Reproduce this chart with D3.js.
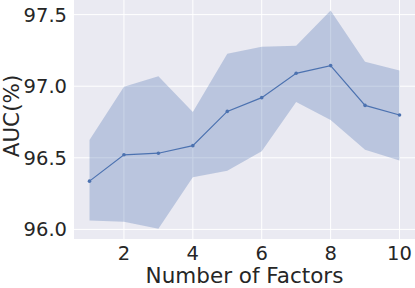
<!DOCTYPE html>
<html>
<head>
<meta charset="utf-8">
<script src="https://cdn.jsdelivr.net/npm/d3@7"></script>
<style>
	body { margin: 0; background: #fff; }
	text { font-family: 'DejaVu Sans', sans-serif; fill: #262626; }
</style>
</head>
<body>
<svg id="chart" width="415" height="288"></svg>
<script>
const factors = [1, 2, 3, 4, 5, 6, 7, 8, 9, 10]
const aucMean = [96.337, 96.521, 96.532, 96.585, 96.824, 96.92, 97.09, 97.144, 96.866, 96.799]
const aucUpper = [96.625, 96.996, 97.07, 96.82, 97.227, 97.276, 97.283, 97.528, 97.17, 97.11]
const aucLower = [96.0625, 96.053, 96.004, 96.365, 96.41, 96.546, 96.889, 96.764, 96.556, 96.481]
const xTicks = [2, 4, 6, 8, 10]
const yTicks = [96.0, 96.5, 97.0, 97.5]

const svg = d3.select('#chart')
const plotLeft = 74, plotRight = 415, plotTop = 0, plotBottom = 239
const lineColor = '#4c72b0'

const x = d3.scaleLinear().domain([0.55, 10.45]).range([plotLeft, plotRight])
const y = d3.scaleLinear().domain([95.933, 97.602]).range([plotBottom, plotTop])

// background
svg.append('rect')
	.attr('x', plotLeft).attr('y', plotTop)
	.attr('width', plotRight - plotLeft).attr('height', plotBottom - plotTop)
	.attr('fill', '#eaeaf2')

// grid
svg.selectAll('line.vgrid')
	.data(xTicks)
	.enter()
	.append('line')
	.attr('x1', d => x(d)).attr('x2', d => x(d))
	.attr('y1', plotTop).attr('y2', plotBottom)
	.attr('stroke', '#fff').attr('stroke-width', 1)
svg.selectAll('line.hgrid')
	.data(yTicks)
	.enter()
	.append('line')
	.attr('x1', plotLeft).attr('x2', plotRight)
	.attr('y1', d => y(d)).attr('y2', d => y(d))
	.attr('stroke', '#fff').attr('stroke-width', 1)

// band
const band = d3.area()
	.x((d, i) => x(factors[i]))
	.y0((d, i) => y(aucLower[i]))
	.y1((d, i) => y(aucUpper[i]))
svg.append('path')
	.attr('d', band(factors))
	.attr('fill', lineColor)
	.attr('fill-opacity', 0.3)

// mean line
const line = d3.line()
	.x((d, i) => x(factors[i]))
	.y((d, i) => y(aucMean[i]))
svg.append('path')
	.attr('d', line(factors))
	.attr('fill', 'none')
	.attr('stroke', lineColor)
	.attr('stroke-width', 1.2)
svg.selectAll('circle')
	.data(factors)
	.enter()
	.append('circle')
	.attr('cx', (d, i) => x(d))
	.attr('cy', (d, i) => y(aucMean[i]))
	.attr('r', 1.8)
	.attr('fill', lineColor)

// tick labels
svg.selectAll('text.xtick')
	.data(xTicks)
	.enter()
	.append('text')
	.attr('x', d => x(d))
	.attr('y', 260)
	.attr('text-anchor', 'middle')
	.attr('font-size', 19.5)
	.text(d => d)
svg.selectAll('text.ytick')
	.data(yTicks)
	.enter()
	.append('text')
	.attr('x', 67)
	.attr('y', d => y(d))
	.attr('dy', '0.36em')
	.attr('text-anchor', 'end')
	.attr('font-size', 19.5)
	.text(d => d3.format('.1f')(d))

// axis labels
svg.append('text')
	.attr('x', (plotLeft + plotRight) / 2)
	.attr('y', 283)
	.attr('text-anchor', 'middle')
	.attr('font-size', 21.5)
	.text('Number of Factors')
svg.append('text')
	.attr('transform', 'translate(19, 116) rotate(-90)')
	.attr('text-anchor', 'middle')
	.attr('font-size', 21.5)
	.text('AUC(%)')
</script>
</body>
</html>
